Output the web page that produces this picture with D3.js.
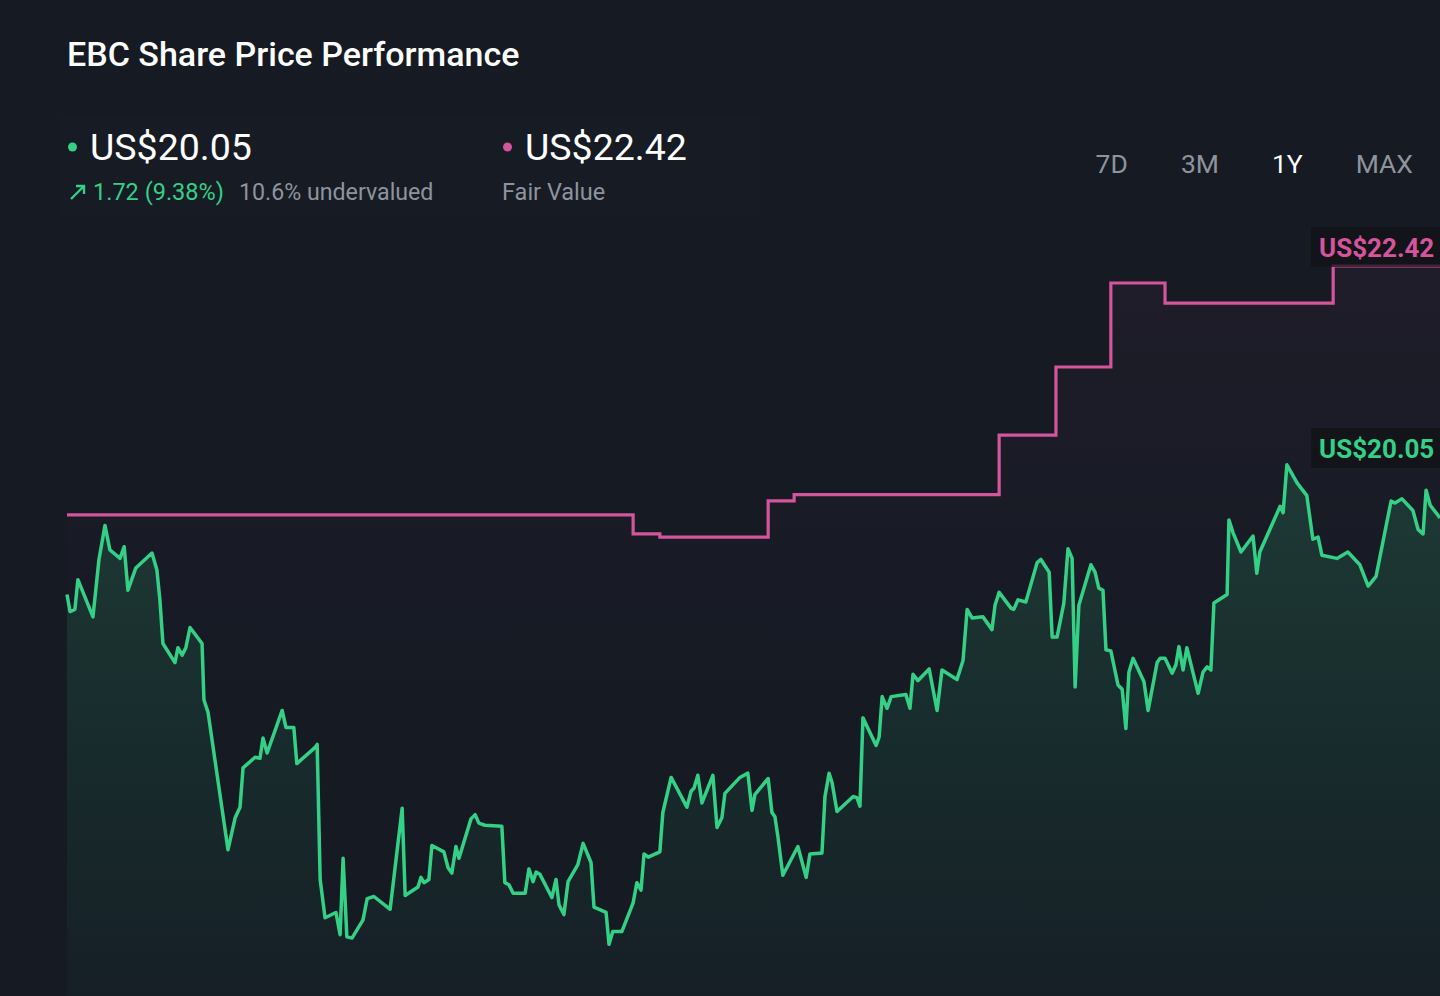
<!DOCTYPE html>
<html>
<head>
<meta charset="utf-8">
<script src="https://cdn.jsdelivr.net/npm/d3@7"></script>
<style>
  html, body { margin: 0; padding: 0; background: #151a23; }
  svg { display: block; font-family: Roboto, "Noto Sans", sans-serif; }
</style>
</head>
<body>
<svg id="chart" width="1440" height="996"></svg>
<script>
// ---------- data ----------
const chartTitle = "EBC Share Price Performance";
const lastPrice = 20.05;
const fairValue = 22.42;
const changeText = "1.72 (9.38%)";
const valuationText = "10.6% undervalued";
const fairValueLabel = "Fair Value";
const periods = ["7D", "3M", "1Y", "MAX"];
const activePeriod = "1Y";

// days since start of the 1Y window
const priceDays = [0,0.8,2.1,2.9,6.9,8.5,10.1,11.4,14.1,15.2,16.2,18.3,22.6,23.9,24.7,25.5,28.7,29.5,30.6,31.6,32.7,35.9,36.4,37.5,42.8,44.7,46.0,46.8,50.0,51.3,52.1,53.2,57.2,58.2,60.3,61.1,65.9,66.5,67.3,68.6,71.5,72.6,73.4,74.4,75.8,78.7,79.8,81.6,85.9,89.1,89.9,93.3,94.1,94.9,96.2,97.0,100.2,101.3,102.3,103.4,104.2,107.4,108.5,109.5,111.1,115.6,116.4,117.5,118.6,121.8,122.8,123.9,124.7,125.7,128.9,130.0,130.8,132.1,133.2,135.8,137.2,139.3,140.1,143.3,144.1,145.1,147.5,150.5,151.5,152.6,153.4,154.5,157.6,158.4,160.6,164.8,165.9,166.7,167.7,168.8,171.7,172.8,174.1,174.9,178.9,181.0,182.1,182.9,186.4,187.4,188.2,189.0,190.3,194.3,196.5,197.5,200.7,201.5,202.6,203.4,204.7,209.0,210.0,210.8,211.6,215.1,215.9,216.7,218.0,219.1,223.0,224.1,224.9,226.2,229.2,231.3,232.6,236.6,238.2,239.3,240.6,243.5,245.9,246.7,247.8,251.0,251.7,252.8,254.9,257.9,258.9,261.1,261.9,263.2,265.0,266.1,267.2,268.0,269.0,272.2,273.3,274.3,275.4,276.2,277.5,279.4,280.5,281.5,282.3,283.4,286.3,287.4,289.8,290.6,291.9,293.8,294.8,295.6,296.7,297.7,300.7,302.0,303.1,304.1,304.9,308.4,308.9,310.0,312.1,315.3,316.3,317.1,322.5,323.3,324.3,327.0,329.6,331.2,332.6,333.6,337.6,340.5,343.7,345.9,348.0,352.0,353.0,354.9,357.8,359.2,360.5,361.3,362.4,365];
const priceValues = [19.33,19.17,19.19,19.47,19.12,19.66,19.98,19.75,19.67,19.78,19.37,19.58,19.72,19.56,19.28,18.87,18.69,18.83,18.76,18.83,19.02,18.87,18.34,18.22,16.93,17.23,17.33,17.70,17.80,17.79,17.98,17.84,18.24,18.08,18.08,17.74,17.89,17.92,16.65,16.29,16.34,16.13,16.85,16.11,16.10,16.27,16.47,16.49,16.37,17.32,16.50,16.58,16.67,16.62,16.65,16.97,16.91,16.76,16.71,16.96,16.85,17.22,17.26,17.18,17.16,17.15,16.62,16.60,16.52,16.52,16.75,16.63,16.72,16.70,16.48,16.65,16.41,16.32,16.63,16.79,16.99,16.81,16.39,16.34,16.04,16.16,16.16,16.43,16.62,16.55,16.89,16.86,16.91,17.28,17.61,17.33,17.48,17.51,17.63,17.37,17.63,17.14,17.23,17.46,17.61,17.65,17.30,17.45,17.60,17.28,17.24,17.05,16.69,16.96,16.67,16.89,16.90,17.43,17.65,17.56,17.29,17.43,17.42,17.34,18.17,17.91,17.99,18.37,18.26,18.37,18.39,18.26,18.58,18.52,18.63,18.24,18.62,18.53,18.71,19.19,19.11,19.12,19.00,19.23,19.35,19.20,19.19,19.28,19.26,19.63,19.66,19.54,18.93,18.93,19.25,19.76,19.67,18.46,19.23,19.61,19.54,19.39,19.37,18.81,18.80,18.48,18.44,18.07,18.60,18.73,18.51,18.24,18.69,18.73,18.73,18.59,18.67,18.84,18.62,18.83,18.40,18.60,18.65,18.62,19.25,19.33,20.03,19.91,19.73,19.88,19.53,19.73,20.16,20.10,20.55,20.38,20.26,19.85,19.87,19.70,19.67,19.73,19.61,19.41,19.50,20.21,20.19,20.23,20.12,19.94,19.90,20.31,20.17,20.05];

const fairDays   = [0, 150.5, 157.6, 186.4, 193.3, 247.8, 262.9, 277.5, 291.9, 336.6, 365];
const fairValues = [20.08, 19.90, 19.87, 20.21, 20.27, 20.83, 21.47, 22.26, 22.07, 22.42, 22.42];

// ---------- drawing ----------
const W = 1440, H = 996;
const svg = d3.select("#chart");
const green = "#34d086", pink = "#d4559c", grey = "#8e949c";

const x = d3.scaleLinear().domain([0, 365]).range([67, 1440]);
const y = d3.scaleLinear().domain([16, 24]).range([948.6, 98]);

const price = priceDays.map((d, i) => ({ d, v: priceValues[i] }));
const fair = fairDays.map((d, i) => ({ d, v: fairValues[i] }));

const defs = svg.append("defs");
const gg = defs.append("linearGradient").attr("id", "gGreen")
  .attr("gradientUnits", "userSpaceOnUse").attr("x1", 0).attr("x2", 0).attr("y1", 460).attr("y2", H);
gg.append("stop").attr("offset", 0).attr("stop-color", green).attr("stop-opacity", 0.17);
gg.append("stop").attr("offset", 1).attr("stop-color", green).attr("stop-opacity", 0.03);
const gp = defs.append("linearGradient").attr("id", "gPink")
  .attr("gradientUnits", "userSpaceOnUse").attr("x1", 0).attr("x2", 0).attr("y1", 260).attr("y2", 700);
gp.append("stop").attr("offset", 0).attr("stop-color", pink).attr("stop-opacity", 0.05);
gp.append("stop").attr("offset", 1).attr("stop-color", pink).attr("stop-opacity", 0);

// faint header panel
svg.append("rect").attr("x", 60).attr("y", 115).attr("width", 700).attr("height", 100)
  .attr("fill", "#ffffff").attr("opacity", 0.008);

// fair value area + line
svg.append("path").datum(fair)
  .attr("d", d3.area().curve(d3.curveStepAfter).x(p => x(p.d)).y0(H).y1(p => y(p.v)))
  .attr("fill", "url(#gPink)");
svg.append("path").datum(fair)
  .attr("d", d3.line().curve(d3.curveStepAfter).x(p => x(p.d)).y(p => y(p.v)))
  .attr("fill", "none").attr("stroke", pink).attr("stroke-width", 3.2);

// price area + line
svg.append("path").datum(price)
  .attr("d", d3.area().x(p => x(p.d)).y0(H).y1(p => y(p.v)))
  .attr("fill", "url(#gGreen)");
svg.append("path").datum(price)
  .attr("d", d3.line().x(p => x(p.d)).y(p => y(p.v)))
  .attr("fill", "none").attr("stroke", green).attr("stroke-width", 3.5)
  .attr("stroke-linejoin", "round");

// end labels
function endLabel(val, color, cy) {
  const g = svg.append("g");
  g.append("rect").attr("x", 1311).attr("y", cy - 21).attr("width", 140).attr("height", 40)
    .attr("fill", "#111318").attr("opacity", 0.75);
  g.append("text").attr("x", 1319).attr("y", cy + 9).attr("fill", color)
    .attr("font-size", 26).attr("font-weight", 700)
    .text("US$" + val.toFixed(2));
}
endLabel(fairValue, pink, 248);
endLabel(lastPrice, green, 449);

// header
svg.append("text").attr("x", 67).attr("y", 66).attr("fill", "#ffffff")
  .attr("font-size", 34).attr("font-weight", 500).text(chartTitle);

svg.append("circle").attr("cx", 72.5).attr("cy", 147).attr("r", 4.5).attr("fill", green);
svg.append("text").attr("x", 90).attr("y", 160).attr("fill", "#ffffff")
  .attr("font-size", 37.5).attr("font-weight", 400).text("US$" + lastPrice.toFixed(2));
svg.append("path").attr("d", "M71,199 L84,186 M76,186 L84,186 L84,194")
  .attr("fill", "none").attr("stroke", green).attr("stroke-width", 2.4);
svg.append("text").attr("x", 93).attr("y", 200).attr("fill", green)
  .attr("font-size", 23.5).text(changeText);
svg.append("text").attr("x", 239).attr("y", 200).attr("fill", grey)
  .attr("font-size", 23.2).text(valuationText);

svg.append("circle").attr("cx", 507.5).attr("cy", 147).attr("r", 4.5).attr("fill", pink);
svg.append("text").attr("x", 525).attr("y", 160).attr("fill", "#ffffff")
  .attr("font-size", 37.5).attr("font-weight", 400).text("US$" + fairValue.toFixed(2));
svg.append("text").attr("x", 502).attr("y", 200).attr("fill", grey)
  .attr("font-size", 23.5).text(fairValueLabel);

// period buttons: laid out right-to-left with equal gaps
const pg = svg.append("g");
const ptexts = pg.selectAll("text").data(periods).join("text")
  .attr("y", 173).attr("font-size", 26.5)
  .attr("fill", d => d === activePeriod ? "#ffffff" : grey)
  .text(d => d);
let right = 1413;
const gap = 53;
const nodes = ptexts.nodes();
for (let i = nodes.length - 1; i >= 0; i--) {
  const w = nodes[i].getComputedTextLength();
  d3.select(nodes[i]).attr("x", right - w);
  right = right - w - gap;
}
</script>
</body>
</html>
